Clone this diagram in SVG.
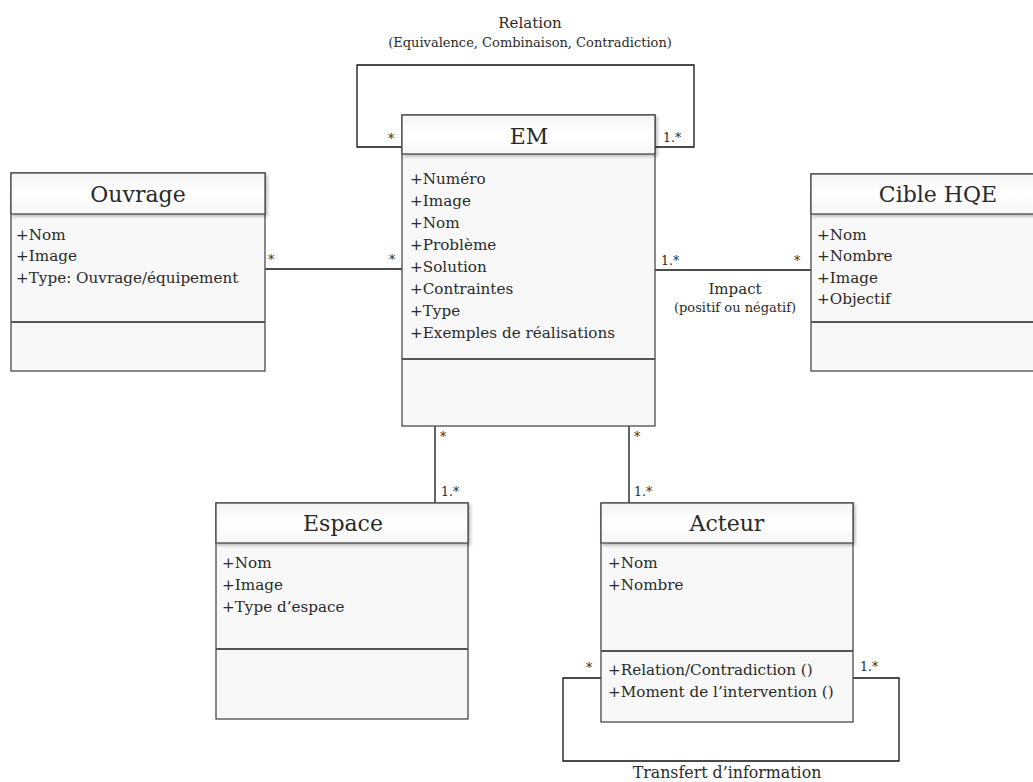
<svg xmlns="http://www.w3.org/2000/svg" width="1033" height="782" viewBox="0 0 1033 782">
<style>
text{font-family:"DejaVu Serif","Liberation Serif",serif;fill:#2a2a2a}
.title{font-size:22px;text-anchor:middle}
.attr{font-size:15.2px}
.mult{font-size:12.5px}
.lbl{font-size:15px;text-anchor:middle}
.sub{font-size:13px;text-anchor:middle}
.tr{font-size:15.8px;text-anchor:middle}
.body{fill:#f8f8f8;stroke:#4a4a4a;stroke-width:1.3}
.head{fill:url(#hg);stroke:#4a4a4a;stroke-width:1.3}
.div{stroke:#555;stroke-width:2}
.conn{fill:none;stroke:#111;stroke-width:1.3}
</style>
<defs>
<linearGradient id="hg" x1="0" y1="0" x2="0" y2="1">
<stop offset="0" stop-color="#f4f4f4"/>
<stop offset="0.5" stop-color="#ffffff"/>
<stop offset="1" stop-color="#f6f6f6"/>
</linearGradient>
<filter id="sh" x="-5%" y="-5%" width="115%" height="130%">
<feDropShadow dx="2" dy="2" stdDeviation="1.5" flood-color="#000" flood-opacity="0.25"/>
</filter>
</defs>
<rect width="1033" height="782" fill="#fff"/>

<g id="connectors">
<polyline class="conn" points="402,147 357,147 357,65 694,65 694,147 655,147"/>
<line class="conn" x1="265" y1="269" x2="402" y2="269"/>
<line class="conn" x1="655" y1="270" x2="811" y2="270"/>
<line class="conn" x1="435" y1="426" x2="435" y2="503"/>
<line class="conn" x1="629" y1="426" x2="629" y2="503"/>
<polyline class="conn" points="601,678 563,678 563,761 899,761 899,678 853,678"/>
<text class="lbl" x="530" y="28">Relation</text>
<text class="sub" x="530" y="47">(Equivalence, Combinaison, Contradiction)</text>
<text class="mult" x="388" y="143">*</text>
<text class="mult" x="663" y="142">1.*</text>
<text class="mult" x="268" y="264">*</text>
<text class="mult" x="389" y="264">*</text>
<text class="mult" x="661" y="265">1.*</text>
<text class="mult" x="794" y="265">*</text>
<text class="lbl" x="735" y="294">Impact</text>
<text class="sub" x="735" y="312">(positif ou négatif)</text>
<text class="mult" x="440" y="441">*</text>
<text class="mult" x="441" y="496">1.*</text>
<text class="mult" x="634" y="441">*</text>
<text class="mult" x="634" y="496">1.*</text>
<text class="mult" x="586" y="672">*</text>
<text class="mult" x="860" y="671">1.*</text>
<text class="tr" x="727" y="778">Transfert d’information</text>
</g>

<g id="em">
<rect class="body" x="402" y="115" width="253" height="311"/>
<rect class="head" x="402" y="115" width="253" height="39" filter="url(#sh)"/>
<line class="div" x1="402" y1="359" x2="655" y2="359"/>
<text class="title" x="529" y="144">EM</text>
<text class="attr" x="410" y="184">+Numéro</text>
<text class="attr" x="410" y="206">+Image</text>
<text class="attr" x="410" y="228">+Nom</text>
<text class="attr" x="410" y="250">+Problème</text>
<text class="attr" x="410" y="272">+Solution</text>
<text class="attr" x="410" y="294">+Contraintes</text>
<text class="attr" x="410" y="316">+Type</text>
<text class="attr" x="410" y="338">+Exemples de réalisations</text>
</g>

<g id="ouvrage">
<rect class="body" x="11" y="173" width="254" height="198"/>
<rect class="head" x="11" y="173" width="254" height="41" filter="url(#sh)"/>
<line class="div" x1="11" y1="322" x2="265" y2="322"/>
<text class="title" x="138" y="202">Ouvrage</text>
<text class="attr" x="16" y="240">+Nom</text>
<text class="attr" x="16" y="261">+Image</text>
<text class="attr" x="16" y="283">+Type: Ouvrage/équipement</text>
</g>

<g id="cible">
<rect class="body" x="811" y="174" width="254" height="197"/>
<rect class="head" x="811" y="174" width="254" height="40" filter="url(#sh)"/>
<line class="div" x1="811" y1="322" x2="1065" y2="322"/>
<text class="title" x="938" y="202">Cible HQE</text>
<text class="attr" x="817" y="240">+Nom</text>
<text class="attr" x="817" y="261">+Nombre</text>
<text class="attr" x="817" y="283">+Image</text>
<text class="attr" x="817" y="304">+Objectif</text>
</g>

<g id="espace">
<rect class="body" x="216" y="503" width="252" height="216"/>
<rect class="head" x="216" y="503" width="252" height="40" filter="url(#sh)"/>
<line class="div" x1="216" y1="649" x2="468" y2="649"/>
<text class="title" x="343" y="531">Espace</text>
<text class="attr" x="222" y="568">+Nom</text>
<text class="attr" x="222" y="590">+Image</text>
<text class="attr" x="222" y="612">+Type d’espace</text>
</g>

<g id="acteur">
<rect class="body" x="601" y="503" width="252" height="219"/>
<rect class="head" x="601" y="503" width="252" height="40" filter="url(#sh)"/>
<line class="div" x1="601" y1="651" x2="853" y2="651"/>
<text class="title" x="727" y="531">Acteur</text>
<text class="attr" x="608" y="568">+Nom</text>
<text class="attr" x="608" y="590">+Nombre</text>
<text class="attr" x="608" y="675">+Relation/Contradiction ()</text>
<text class="attr" x="608" y="697">+Moment de l’intervention ()</text>
</g>
</svg>
